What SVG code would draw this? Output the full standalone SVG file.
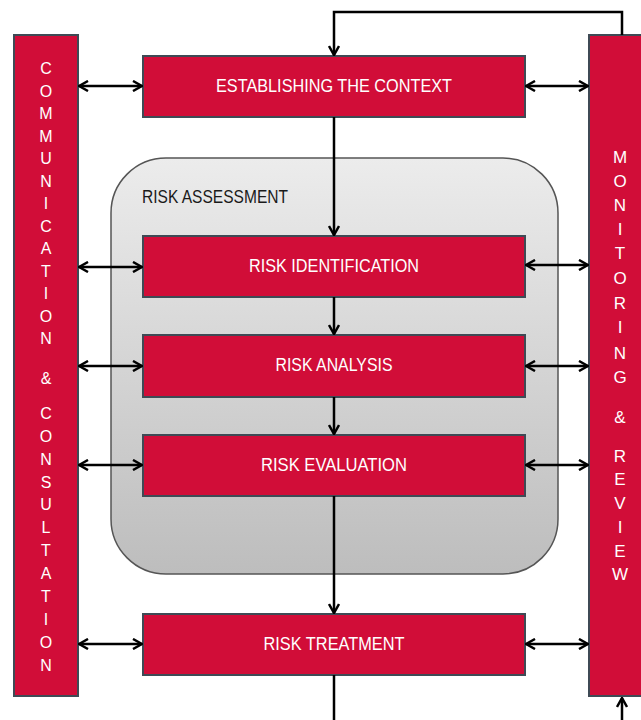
<svg xmlns="http://www.w3.org/2000/svg" width="641" height="720" viewBox="0 0 641 720">
<defs>
<linearGradient id="ra" x1="0" y1="0" x2="0" y2="1">
<stop offset="0" stop-color="#ececec"/>
<stop offset="1" stop-color="#bdbdbd"/>
</linearGradient>
<marker id="ah" viewBox="0 0 12 12" refX="11" refY="6" markerWidth="12" markerHeight="12" markerUnits="userSpaceOnUse" orient="auto-start-reverse">
<path d="M2,1 L11,6 L2,11" fill="none" stroke="#000" stroke-width="2.5"/>
</marker>
</defs>
<style>
.box{fill:#d10d38;stroke:#3f4a55;stroke-width:2}
.bt{fill:#fff;font-family:"Liberation Sans",Arial,sans-serif;font-size:17.5px;text-anchor:middle}
.vt{fill:#fff;font-family:"Liberation Sans",Arial,sans-serif;font-size:16px;text-anchor:middle}
.ln{fill:none;stroke:#000;stroke-width:2.5}
</style>
<rect width="641" height="720" fill="#fff"/>
<g id="risk-assessment">
<rect x="111" y="158" width="447" height="416" rx="55" ry="55" fill="url(#ra)" stroke="#555" stroke-width="1.5"/>
<text x="142" y="203" font-family="Liberation Sans,Arial,sans-serif" font-size="18.5" fill="#1a1a1a" textLength="146" lengthAdjust="spacingAndGlyphs">RISK ASSESSMENT</text>
</g>
<g id="communication">
<rect class="box" x="14" y="35" width="64" height="661"/>
<g class="vt">
<text x="46" y="74">C</text><text x="46" y="97">O</text><text x="46" y="119">M</text><text x="46" y="142">M</text><text x="46" y="164">U</text><text x="46" y="187">N</text><text x="46" y="209">I</text><text x="46" y="232">C</text><text x="46" y="254">A</text><text x="46" y="277">T</text><text x="46" y="299">I</text><text x="46" y="322">O</text><text x="46" y="344">N</text>
<text x="46" y="384">&amp;</text>
<text x="46" y="419">C</text><text x="46" y="442">O</text><text x="46" y="465">N</text><text x="46" y="488">S</text><text x="46" y="510">U</text><text x="46" y="533">L</text><text x="46" y="556">T</text><text x="46" y="579">A</text><text x="46" y="602">T</text><text x="46" y="625">I</text><text x="46" y="648">O</text><text x="46" y="671">N</text>
</g>
</g>
<g id="monitoring">
<rect class="box" x="589" y="35" width="60" height="661"/>
<g class="vt" style="font-size:17px">
<text x="620" y="163">M</text><text x="620" y="187">O</text><text x="620" y="211">N</text><text x="620" y="235">I</text><text x="620" y="259">T</text><text x="620" y="284">O</text><text x="620" y="309">R</text><text x="620" y="333">I</text><text x="620" y="359">N</text><text x="620" y="383">G</text>
<text x="620" y="423">&amp;</text>
<text x="620" y="462">R</text><text x="620" y="485">E</text><text x="620" y="509">V</text><text x="620" y="533">I</text><text x="620" y="557">E</text><text x="620" y="580">W</text>
</g>
</g>
<g id="context">
<rect class="box" x="143" y="56" width="382" height="61"/>
<text class="bt" x="334" y="92" textLength="236" lengthAdjust="spacingAndGlyphs">ESTABLISHING THE CONTEXT</text>
</g>
<g id="identification">
<rect class="box" x="143" y="236" width="382" height="61"/>
<text class="bt" x="334" y="272" textLength="170" lengthAdjust="spacingAndGlyphs">RISK IDENTIFICATION</text>
</g>
<g id="analysis">
<rect class="box" x="143" y="335" width="382" height="62"/>
<text class="bt" x="334" y="371" textLength="117" lengthAdjust="spacingAndGlyphs">RISK ANALYSIS</text>
</g>
<g id="evaluation">
<rect class="box" x="143" y="435" width="382" height="61"/>
<text class="bt" x="334" y="471" textLength="146" lengthAdjust="spacingAndGlyphs">RISK EVALUATION</text>
</g>
<g id="treatment">
<rect class="box" x="143" y="614" width="382" height="61"/>
<text class="bt" x="334" y="650" textLength="141" lengthAdjust="spacingAndGlyphs">RISK TREATMENT</text>
</g>
<g id="connectors">
<path class="ln" d="M622,35 V12 H334 V55" marker-end="url(#ah)"/>
<path class="ln" d="M334,117 V235" marker-end="url(#ah)"/>
<path class="ln" d="M334,297 V334" marker-end="url(#ah)"/>
<path class="ln" d="M334,397 V434" marker-end="url(#ah)"/>
<path class="ln" d="M334,496 V613" marker-end="url(#ah)"/>
<path class="ln" d="M334,675 V720"/>
<path class="ln" d="M622,720 V698" marker-end="url(#ah)"/>
<path class="ln" d="M79,86 H142" marker-start="url(#ah)" marker-end="url(#ah)"/>
<path class="ln" d="M79,267 H142" marker-start="url(#ah)" marker-end="url(#ah)"/>
<path class="ln" d="M79,366 H142" marker-start="url(#ah)" marker-end="url(#ah)"/>
<path class="ln" d="M79,465 H142" marker-start="url(#ah)" marker-end="url(#ah)"/>
<path class="ln" d="M79,644 H142" marker-start="url(#ah)" marker-end="url(#ah)"/>
<path class="ln" d="M526,86 H588" marker-start="url(#ah)" marker-end="url(#ah)"/>
<path class="ln" d="M526,265 H588" marker-start="url(#ah)" marker-end="url(#ah)"/>
<path class="ln" d="M526,366 H588" marker-start="url(#ah)" marker-end="url(#ah)"/>
<path class="ln" d="M526,465 H588" marker-start="url(#ah)" marker-end="url(#ah)"/>
<path class="ln" d="M526,644 H588" marker-start="url(#ah)" marker-end="url(#ah)"/>
</g>
</svg>
